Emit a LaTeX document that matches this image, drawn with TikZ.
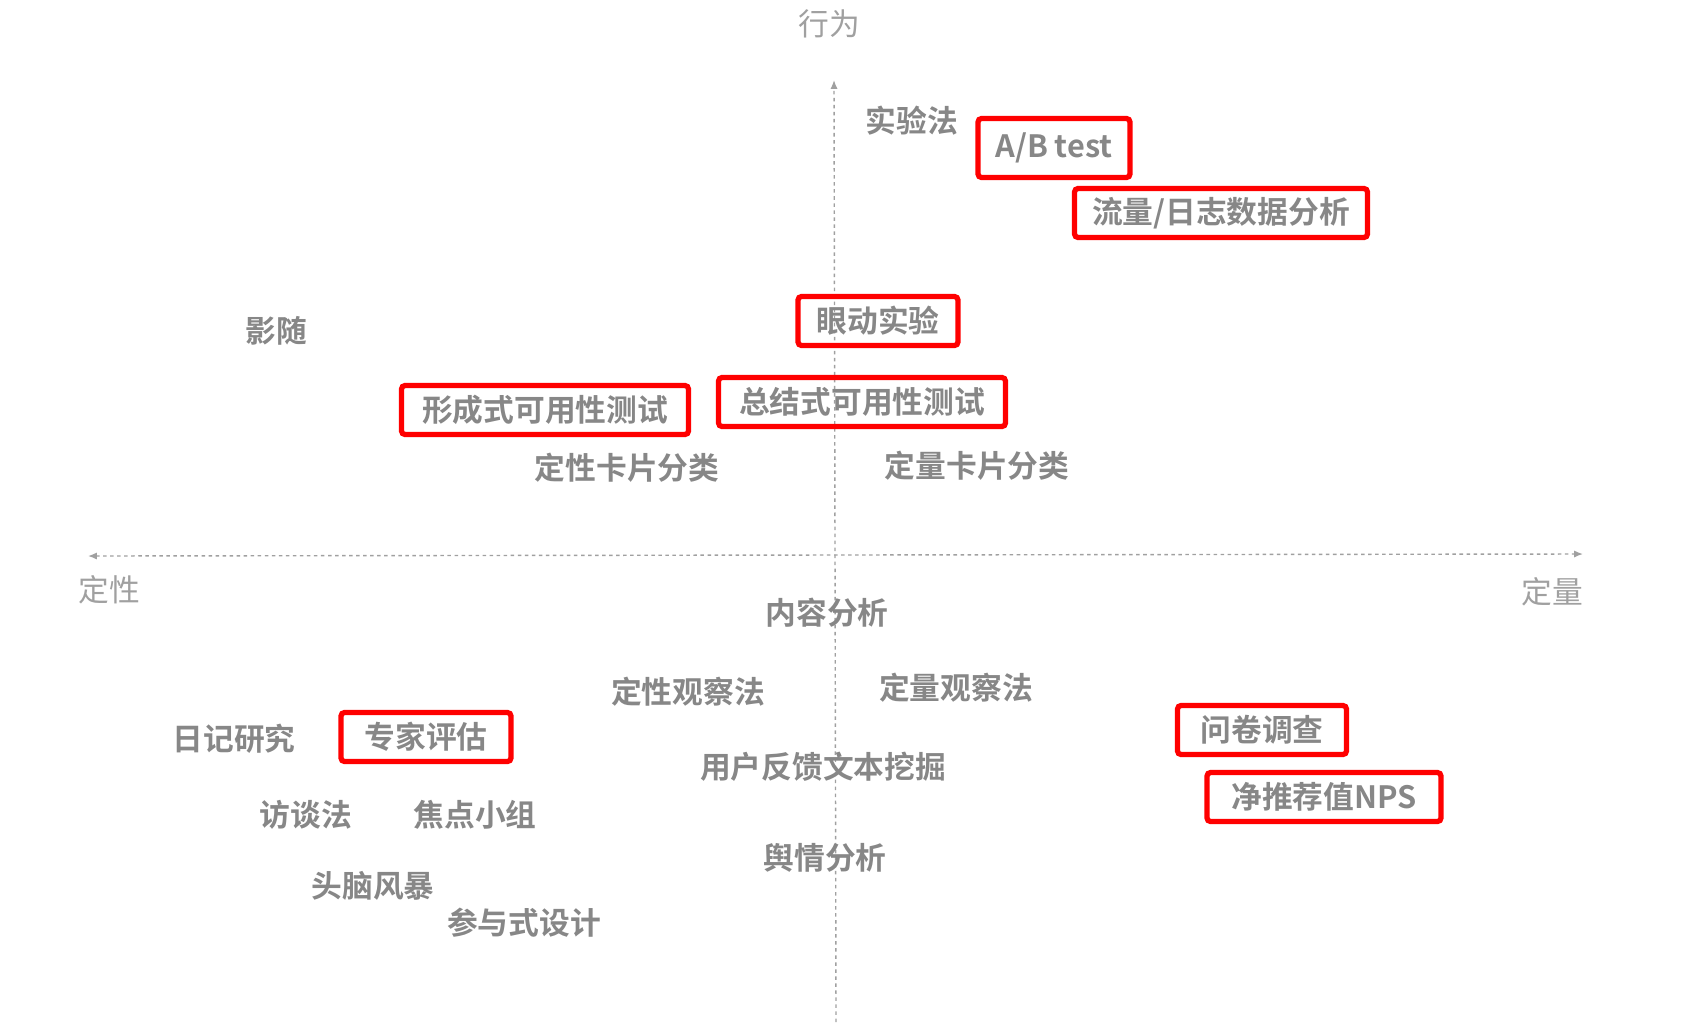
\documentclass[tikz,border=0pt]{standalone}
\usepackage{fontspec}
\usepackage{tikz}
\usetikzlibrary{arrows.meta}
\setmainfont{Noto Sans CJK SC}[BoldFont={Noto Sans CJK SC Bold}]
\definecolor{itemgray}{HTML}{878787}
\definecolor{axisgray}{HTML}{A0A0A0}
\definecolor{boxred}{HTML}{FF0000}

\begin{document}
\begin{tikzpicture}[x=0.02cm, y=-0.02cm, >={Latex[length=5pt,width=4pt]},
  every node/.style={inner sep=0pt, text=itemgray, font=\fontsize{17.5pt}{20pt}\selectfont\bfseries},
  axislabel/.style={text=axisgray, font=\fontsize{17.5pt}{20pt}\selectfont},
  redbox/.style={draw=boxred, line width=3pt, rounded corners=2pt, minimum height=0.98cm}]
  \useasboundingbox (0,0) rectangle (1706,1032);
  % axes
  \coordinate (left) at (88,556);
  \coordinate (right) at (1583,554);
  \coordinate (top) at (834,80);
  \coordinate (bottom) at (836,1022);
  \draw[->, axisgray, line width=0.8pt, dash pattern=on 2pt off 2pt] (bottom) -- (top);
  \draw[<->, axisgray, line width=0.8pt, dash pattern=on 2pt off 2pt] (left) -- (right);
  \node[axislabel] (behave) at (829,24) {行为};
  \node[axislabel] (qual) at (109,590) {定性};
  \node[axislabel] (quant) at (1552,592) {定量};
  % upper half
  \node (exp) at (912,121) {实验法};
  \node[redbox, minimum width=3.04cm, minimum height=1.18cm] (ab) at (1054,148) {A/B test};
  \node[redbox, minimum width=5.86cm] (log) at (1221,213) {流量/日志数据分析};
  \node (shadow) at (276,331) {影随};
  \node[redbox, minimum width=3.2cm] (eye) at (878,321) {眼动实验};
  \node[redbox, minimum width=5.74cm] (form) at (545,410) {形成式可用性测试};
  \node[redbox, minimum width=5.74cm] (summ) at (862,402) {总结式可用性测试};
  \node (qualcard) at (627,468) {定性卡片分类};
  \node (quantcard) at (977,466) {定量卡片分类};
  % lower half
  \node (content) at (827,613) {内容分析};
  \node (qualobs) at (688,692) {定性观察法};
  \node (quantobs) at (956,688) {定量观察法};
  \node (diary) at (234,739) {日记研究};
  \node[redbox, minimum width=3.4cm] (expert) at (426,737) {专家评估};
  \node[redbox, minimum width=3.38cm] (survey) at (1262,730) {问卷调查};
  \node (feedback) at (823,767) {用户反馈文本挖掘};
  \node (interview) at (306,815) {访谈法};
  \node (focus) at (475,815) {焦点小组};
  \node[redbox, minimum width=4.68cm] (nps) at (1324,797) {净推荐值NPS};
  \node (opinion) at (825,858) {舆情分析};
  \node (brain) at (373,886) {头脑风暴};
  \node (partic) at (524,923) {参与式设计};
\end{tikzpicture}
\end{document}
